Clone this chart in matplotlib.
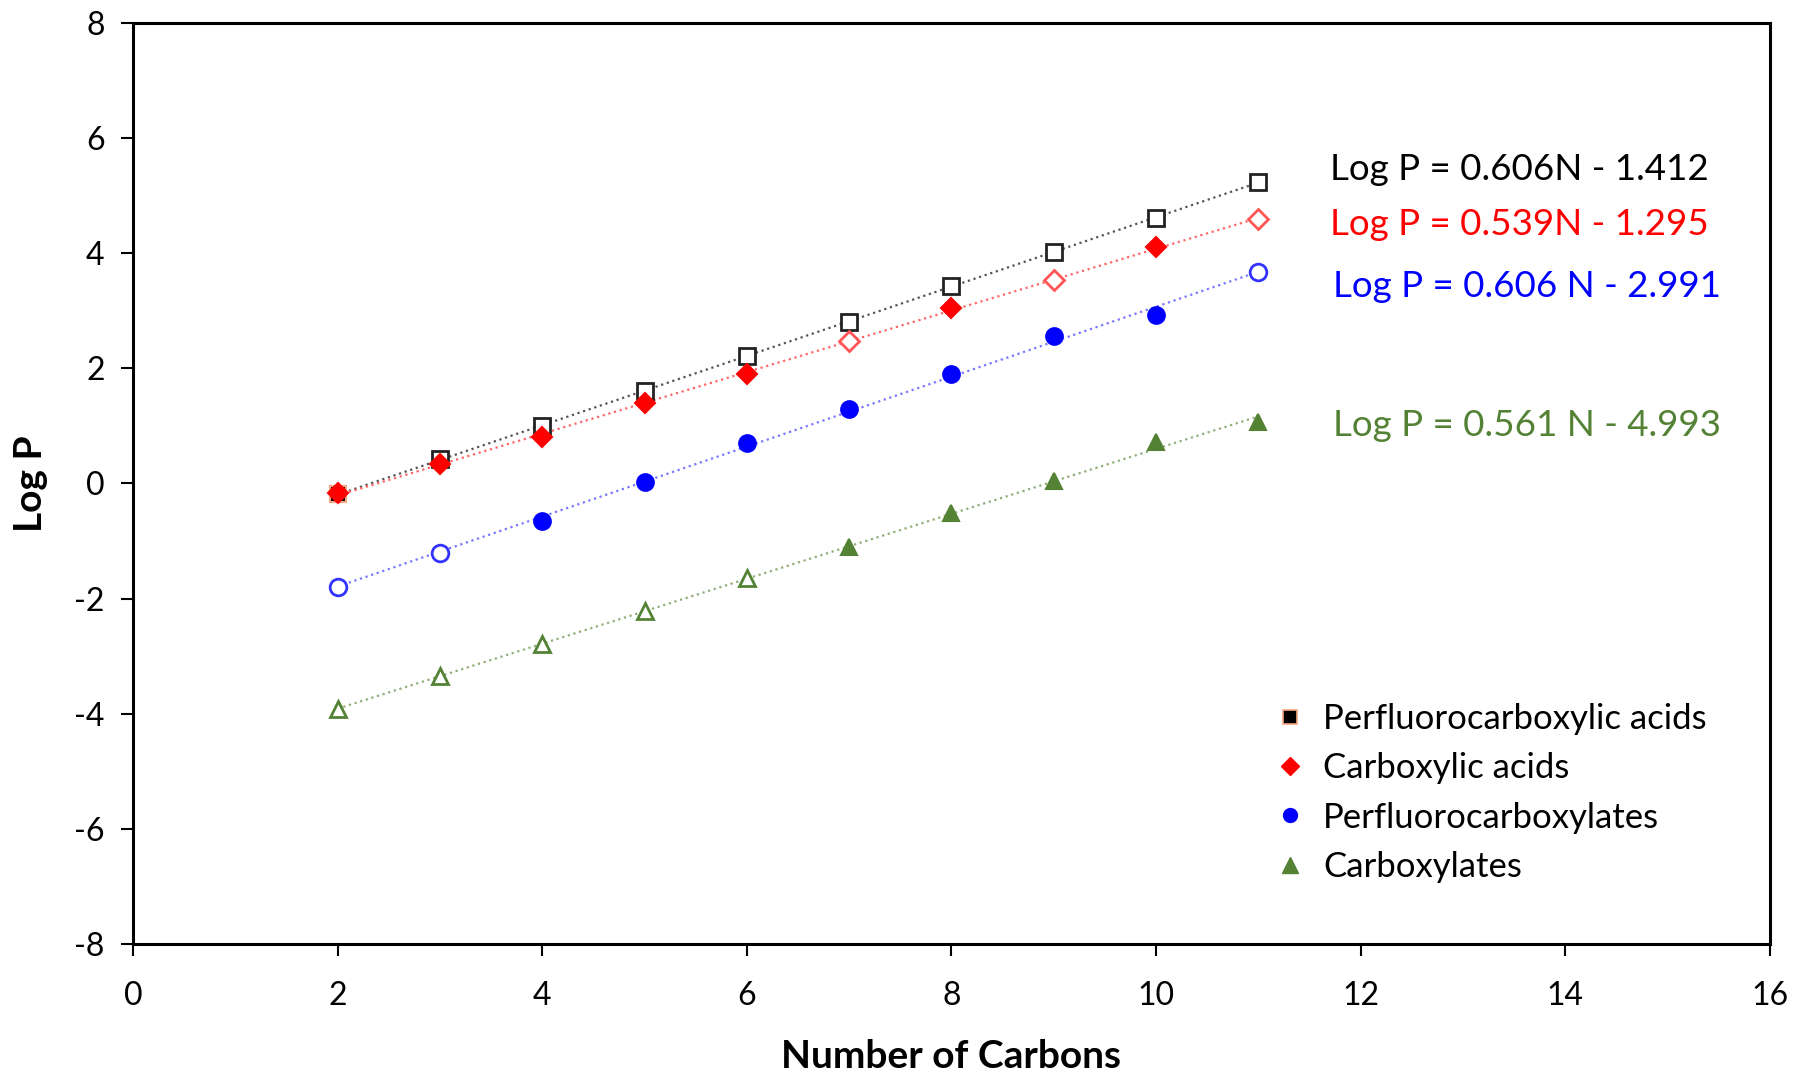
import numpy as np
import matplotlib
matplotlib.use("Agg")
import matplotlib.pyplot as plt
from matplotlib.lines import Line2D

plt.rcParams['font.family'] = ['Lato', 'DejaVu Sans']
plt.rcParams['axes.unicode_minus'] = False

# data
carbons = [2, 3, 4, 5, 6, 7, 8, 9, 10, 11]
pfca = [-0.18, 0.42, 1.00, 1.60, 2.21, 2.81, 3.43, 4.02, 4.62, 5.24]
ca = [-0.16, 0.34, 0.80, 1.39, 1.91, 2.47, 3.05, 3.53, 4.10, 4.60]
pfcx = [-1.79, -1.20, -0.65, 0.03, 0.70, 1.30, 1.90, 2.56, 2.92, 3.67]
cx = [-3.92, -3.35, -2.79, -2.21, -1.65, -1.11, -0.52, 0.04, 0.72, 1.06]

# which points are drawn filled (1) or hollow (0)
pfca_filled = [1, 0, 0, 0, 0, 0, 0, 0, 0, 0]
ca_filled = [1, 1, 1, 1, 1, 0, 1, 0, 1, 0]
pfcx_filled = [0, 0, 1, 1, 1, 1, 1, 1, 1, 0]
cx_filled = [0, 0, 0, 0, 0, 1, 1, 1, 1, 1]

labels = ["Perfluorocarboxylic acids", "Carboxylic acids",
          "Perfluorocarboxylates", "Carboxylates"]
equations = ["Log P = 0.606N - 1.412", "Log P = 0.539N - 1.295",
             "Log P = 0.606 N - 2.991", "Log P = 0.561 N - 4.993"]

green = "#548235"
series = [
    # y, filled, marker, fill color, open edge color, trend color, ms, text color
    (pfca, pfca_filled, 's', 'black', '#222222', '#555555', 11, 'black'),
    (ca, ca_filled, 'D', 'red', '#ff5555', '#ff6666', 10, 'red'),
    (pfcx, pfcx_filled, 'o', 'blue', '#3333ff', '#7777ff', 12, 'blue'),
    (cx, cx_filled, '^', green, green, '#8fae78', 12, green),
]
eq_pos = [(11.7, 5.46), (11.7, 4.50), (11.73, 3.43), (11.73, 1.0)]

fig = plt.figure(figsize=(17.98, 10.73), dpi=100)
ax = fig.add_axes([0.074, 0.1202, 0.9103, 0.8584])

x = np.array(carbons)
for (y, filled, mk, fc, ec, tc, ms, txtc), eq, pos in zip(series, equations, eq_pos):
    y = np.array(y)
    # linear trendline
    k, b = np.polyfit(x, y, 1)
    xl = np.array([x.min(), x.max()])
    ax.plot(xl, k * xl + b, ls=':', color=tc, lw=1.6, zorder=1)
    for xi, yi, f in zip(x, y, filled):
        if f:
            edge = '#f4a582' if mk == 's' else fc
            ax.plot(xi, yi, marker=mk, ms=ms, mfc=fc, mec=edge, mew=1.5,
                    ls='none', zorder=3)
        else:
            ax.plot(xi, yi, marker=mk, ms=ms, mfc='white', mec=ec, mew=2,
                    ls='none', zorder=3)
    ax.text(pos[0], pos[1], eq, color=txtc, fontsize=26.5, va='center', ha='left')

handles = [
    Line2D([], [], ls='none', marker='s', ms=10, mfc='black', mec='#f4a582', mew=1.2),
    Line2D([], [], ls='none', marker='D', ms=9, mfc='red', mec='red'),
    Line2D([], [], ls='none', marker='o', ms=10, mfc='blue', mec='blue'),
    Line2D([], [], ls='none', marker='^', ms=11, mfc=green, mec=green),
]
ax.legend(handles, labels, loc='upper left', bbox_to_anchor=(0.688, 0.277),
          frameon=False, fontsize=25, handletextpad=0.45, labelspacing=0.5,
          handlelength=1.0, borderaxespad=0)

ax.set_xlim(0, 16)
ax.set_ylim(-8, 8)
ax.set_xticks(np.arange(0, 17, 2))
ax.set_yticks(np.arange(-8, 9, 2))
ax.tick_params(labelsize=23, direction='out', length=8.5, width=1.5)
ax.tick_params(axis='x', pad=18)
ax.tick_params(axis='y', pad=12)
for s in ax.spines.values():
    s.set_linewidth(2.2)
ax.set_xlabel("Number of Carbons", fontsize=28, fontweight='bold', labelpad=20)
ax.set_ylabel("Log P", fontsize=28, fontweight='bold', labelpad=19)

fig.savefig("out.png", dpi=100)
